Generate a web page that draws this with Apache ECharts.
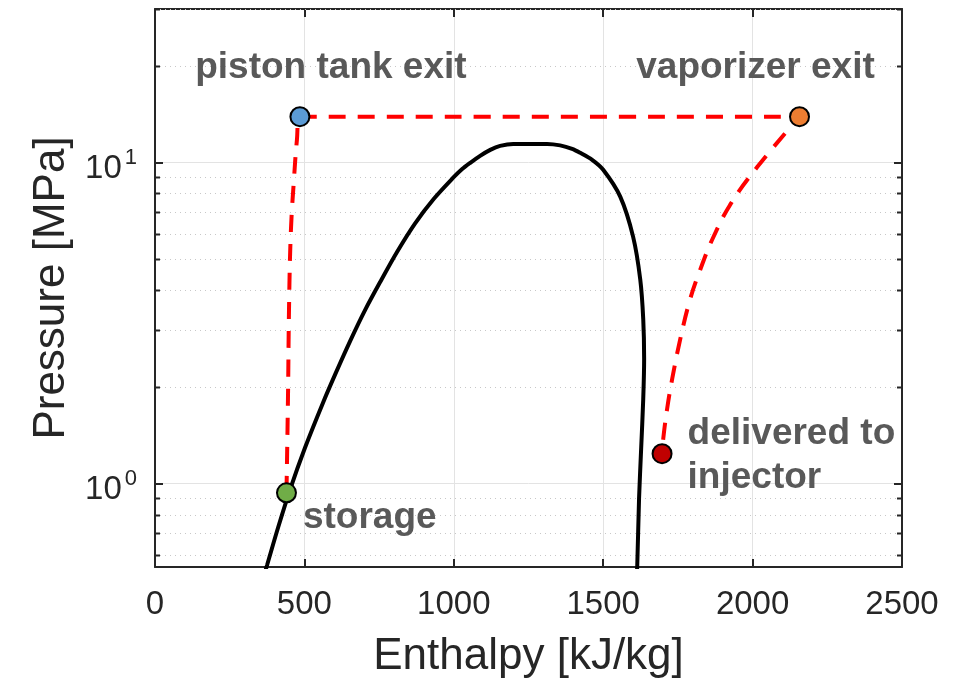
<!DOCTYPE html>
<html>
<head>
<meta charset="utf-8">
<script src="https://cdn.jsdelivr.net/npm/echarts@6/dist/echarts.min.js"></script>
<style>html,body{margin:0;padding:0;background:#fff}#chart{width:961px;height:684px}</style>
</head>
<body>
<div id="chart"></div>
<script>
// ---- data ----
const domeEnthalpy = [358, 375, 412, 452, 502, 562, 603, 653, 703, 753, 810, 870, 934, 998, 1028, 1055, 1088, 1122, 1155, 1199, 1256, 1312, 1356, 1396, 1423, 1463, 1500, 1557, 1600, 1624, 1634, 1637, 1634, 1627, 1620, 1614, 1610];
const domePressure = [0.493, 0.557, 0.730, 0.958, 1.293, 1.783, 2.187, 2.776, 3.466, 4.231, 5.259, 6.447, 7.712, 8.952, 9.526, 9.963, 10.476, 10.934, 11.25, 11.41, 11.41, 11.41, 11.29, 11.01, 10.70, 10.18, 9.48, 7.82, 5.87, 4.32, 3.25, 2.44, 1.835, 1.284, 0.899, 0.557, 0.473];

const processEnthalpy = [440, 445, 449, 455, 465, 475, 485, 2157, 2016, 1925, 1865, 1825, 1791, 1758, 1731, 1714, 1701, 1697];
const processPressure = [0.936, 1.835, 3.74, 6.18, 8.83, 11.75, 13.87, 13.87, 9.68, 7.38, 5.75, 4.64, 3.75, 2.82, 2.12, 1.71, 1.379, 1.239];

const stateNames = ['storage', 'piston tank exit', 'vaporizer exit', 'delivered to\ninjector'];
const stateEnthalpy = [440, 485, 2157, 1697];
const statePressure = [0.936, 13.87, 13.87, 1.239];

const xTickValues = [0, 500, 1000, 1500, 2000, 2500];
const minorPressureTicks = [0.6, 0.7, 0.8, 0.9, 2, 3, 4, 5, 6, 7, 8, 9, 20, 30];

// ---- styles ----
const stateColors = ['#70AD47', '#5B9BD5', '#ED7D31', '#C00000'];
const FONT = "'Liberation Sans', Arial, Helvetica, sans-serif";
const labelLayouts = [
  {position: 'right', distance: 6, offset: [0, 25]},
  {position: 'top', distance: 20, offset: [31, 0]},
  {position: 'top', distance: 20, offset: [-44, 0]},
  {position: 'right', distance: 15, offset: [0, 2], lineHeight: 44}
];

const chart = echarts.init(document.getElementById('chart'), null, {renderer: 'canvas'});

const axisColor = '#262626';
const isPow10 = v => Math.abs(Math.log10(v) - Math.round(Math.log10(v))) < 1e-6;

const option = {
  backgroundColor: '#ffffff',
  animation: false,
  grid: {left: 155, top: 9, right: 59, bottom: 117, containLabel: false},
  xAxis: [{
    type: 'value', min: 0, max: 2500, interval: 500, position: 'bottom',
    name: 'Enthalpy [kJ/kg]', nameLocation: 'middle', nameGap: 68,
    nameTextStyle: {fontFamily: FONT, fontSize: 44, color: axisColor},
    axisLine: {show: true, onZero: false, lineStyle: {color: axisColor, width: 2}},
    axisTick: {show: true, inside: true, length: 8, lineStyle: {color: axisColor, width: 2}},
    axisLabel: {fontFamily: FONT, fontSize: 33, color: axisColor, margin: 21,
      formatter: v => xTickValues.includes(v) ? String(v) : ''},
    splitLine: {show: true, lineStyle: {color: '#e3e3e3', width: 1}}
  }, {
    type: 'value', min: 0, max: 2500, interval: 500, position: 'top',
    axisLine: {show: true, onZero: false, lineStyle: {color: axisColor, width: 2}},
    axisTick: {show: true, inside: true, length: 8, lineStyle: {color: axisColor, width: 2}},
    axisLabel: {show: false}, splitLine: {show: false}
  }],
  yAxis: [{
    type: 'log', logBase: 10, min: 0.55, max: 30, position: 'left',
    name: 'Pressure [MPa]', nameLocation: 'middle', nameGap: 77, nameRotate: 90,
    nameTextStyle: {fontFamily: FONT, fontSize: 44, color: axisColor},
    axisLine: {show: true, onZero: false, lineStyle: {color: axisColor, width: 2}},
    axisTick: {show: true, inside: true, length: 8, lineStyle: {color: axisColor, width: 2}},
    axisLabel: {
      margin: 18, color: axisColor,
      formatter: v => isPow10(v) ? '{b|10}{s|' + Math.round(Math.log10(v)) + '}' : '',
      rich: {
        b: {fontFamily: FONT, fontSize: 33, color: axisColor, padding: [13, 0, 0, 0]},
        s: {fontFamily: FONT, fontSize: 22, color: axisColor, padding: [0, 0, 9, 3]}
      }
    },
    splitLine: {show: true, lineStyle: {color: '#e3e3e3', width: 1}}
  }, {
    type: 'log', logBase: 10, min: 0.55, max: 30, position: 'right',
    axisLine: {show: true, onZero: false, lineStyle: {color: axisColor, width: 2}},
    axisTick: {show: true, inside: true, length: 8, lineStyle: {color: axisColor, width: 2}},
    axisLabel: {show: false}, splitLine: {show: false}
  }],
  series: [
    {
      type: 'custom', name: 'minor', silent: true, z: 1,
      data: minorPressureTicks.map(v => [0, v]),
      renderItem: (params, api) => {
        const v = api.value(1);
        const p0 = api.coord([0, v]);
        const p1 = api.coord([2500, v]);
        const y = Math.round(p0[1]) + 0.5;
        return {
          type: 'group',
          children: [
            {type: 'line', shape: {x1: p0[0], y1: y, x2: p1[0], y2: y},
              style: {stroke: '#c8c8c8', lineWidth: 1, lineDash: [1, 4]}},
            {type: 'line', shape: {x1: p0[0], y1: y, x2: p0[0] + 5, y2: y},
              style: {stroke: axisColor, lineWidth: 2}},
            {type: 'line', shape: {x1: p1[0] - 5, y1: y, x2: p1[0], y2: y},
              style: {stroke: axisColor, lineWidth: 2}}
          ]
        };
      }
    },
    {
      type: 'line', name: 'dome', z: 3, clip: true, smooth: 0.3,
      showSymbol: false, symbol: 'none',
      data: domeEnthalpy.map((h, i) => [h, domePressure[i]]),
      lineStyle: {color: '#000000', width: 4}
    },
    {
      type: 'line', name: 'process', z: 4, clip: true, smooth: 0.4,
      showSymbol: false, symbol: 'none',
      data: processEnthalpy.map((h, i) => [h, processPressure[i]]),
      lineStyle: {color: '#ff0000', width: 4, type: [17, 12]}
    },
    {
      type: 'scatter', name: 'states', z: 5, symbol: 'circle', symbolSize: 19,
      data: stateNames.map((n, i) => ({
        name: n,
        value: [stateEnthalpy[i], statePressure[i]],
        itemStyle: {color: stateColors[i], borderColor: '#000', borderWidth: 2, opacity: 1},
        label: Object.assign({
          show: true, formatter: '{b}', fontFamily: FONT, fontSize: 37,
          fontWeight: 'bold', color: '#595959', align: 'left'
        }, labelLayouts[i], labelLayouts[i].position === 'top' ? {align: 'center'} : {})
      }))
    }
  ]
};
chart.setOption(option);
</script>
</body>
</html>
